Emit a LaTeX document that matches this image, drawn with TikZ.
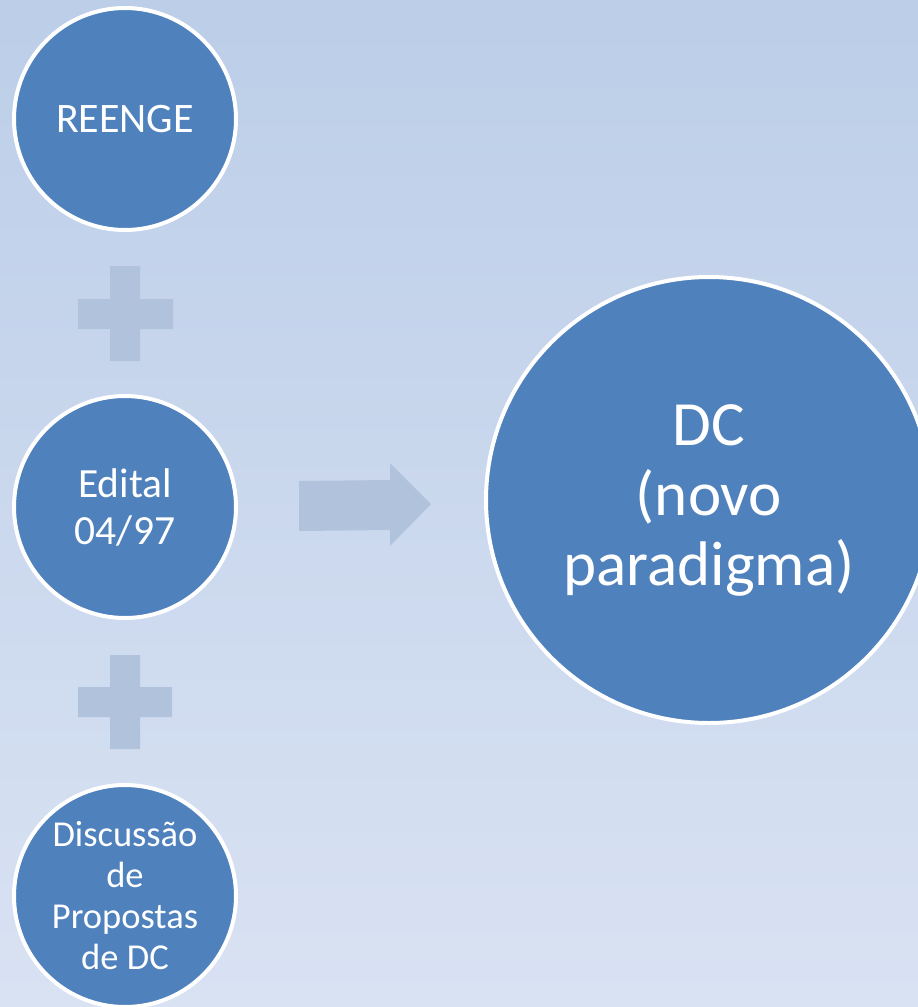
\documentclass[tikz,border=0pt]{standalone}
\usepackage{fontspec}
\setmainfont{Carlito}
\definecolor{bgtop}{HTML}{BCCEE8}
\definecolor{bgbot}{HTML}{D9E2F3}
\definecolor{circfill}{HTML}{4F81BD}
\definecolor{deco}{HTML}{B0C2DC}
\tikzset{
  bubble/.style={circle, fill=circfill, draw=white, line width=4pt, inner sep=0pt,
    text=white, align=center, minimum size=222pt},
  bigbubble/.style={bubble, minimum size=446pt},
  decoshape/.style={fill=deco}
}
\begin{document}
\begin{tikzpicture}[x=1pt,y=-1pt]
\shade[top color=bgtop, bottom color=bgbot] (0,0) rectangle (918,1007);
\useasboundingbox (0,0) rectangle (918,1007);
\begin{scope}
\clip (0,0) rectangle (918,1007);
\node[bubble, font=\fontsize{42}{46}\selectfont] (reenge) at (125,119) {REENGE};
\node[bubble, font=\fontsize{41.5}{47}\selectfont] (edital) at (125,507) {Edital\\04/97};
\node[bubble, font=\fontsize{36.5}{41}\selectfont] (disc) at (125,896) {Discussão\\de\\Propostas\\de DC};
\node[bigbubble, font=\fontsize{63}{70}\selectfont] (dc) at (709,500) {DC\\(novo\\paradigma)};
% plus signs
\fill[decoshape] (110,266) -- (140,266) -- (140,299) -- (173,299) -- (173,329) -- (140,329)
  -- (140,361) -- (110,361) -- (110,329) -- (78,329) -- (78,299) -- (110,299) -- cycle;
\fill[decoshape] (110,655) -- (140,655) -- (140,687) -- (172,687) -- (172,717) -- (140,717)
  -- (140,749) -- (110,749) -- (110,717) -- (78,717) -- (78,687) -- (110,687) -- cycle;
% arrow
\fill[decoshape] (299,481) -- (390,480) -- (390,463) -- (431,504) -- (390,546) -- (390,530)
  -- (299,531) -- cycle;
\end{scope}
\end{tikzpicture}
\end{document}
